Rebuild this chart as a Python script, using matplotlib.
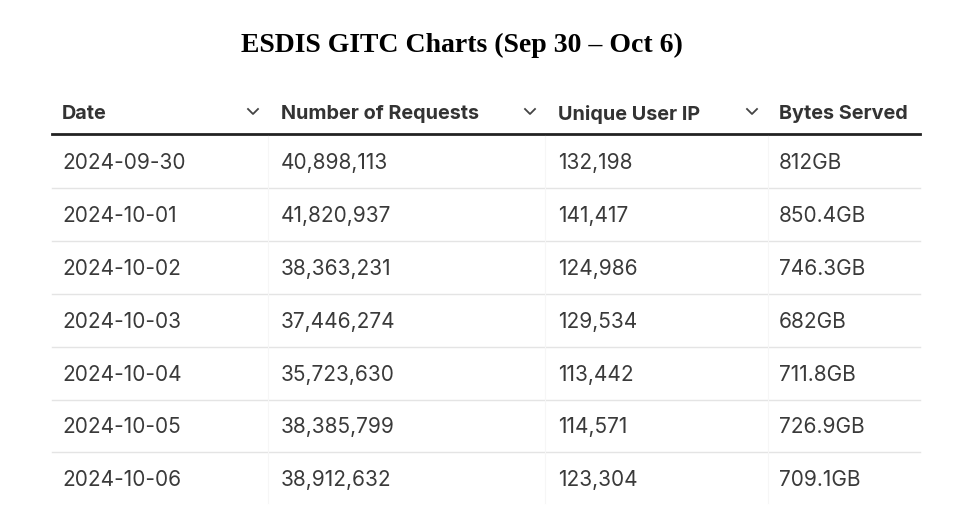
import matplotlib
matplotlib.use("Agg")
import matplotlib.pyplot as plt

title = "ESDIS GITC Charts (Sep 30 – Oct 6)"
headers = ["Date", "Number of Requests", "Unique User IP", "Bytes Served"]
dates = ["2024-09-30", "2024-10-01", "2024-10-02", "2024-10-03", "2024-10-04", "2024-10-05", "2024-10-06"]
requests = ["40,898,113", "41,820,937", "38,363,231", "37,446,274", "35,723,630", "38,385,799", "38,912,632"]
unique_ip = ["132,198", "141,417", "124,986", "129,534", "113,442", "114,571", "123,304"]
bytes_served = ["812GB", "850.4GB", "746.3GB", "682GB", "711.8GB", "726.9GB", "709.1GB"]

fig = plt.figure(figsize=(9.55, 5.21), dpi=100)
ax = fig.add_axes([0, 0, 1, 1])
ax.set_xlim(0, 955); ax.set_ylim(521, 0); ax.axis("off")

ax.text(462, 42, title, ha="center", va="center_baseline", fontsize=20, fontweight="bold",
        family="Liberation Serif", color="black")

col_x = [62, 281, 558, 779]
chev_x = [253, 530, 752]
sep_x = [268, 545, 768]
for x, h in zip(col_x, headers):
    ax.text(x, 112, h, ha="left", va="center_baseline", fontsize=14.3, fontweight="bold", family="Inter", color="#333333")
for cx in chev_x:
    ax.plot([cx-5, cx, cx+5], [109, 114, 109], color="#444444", lw=1.3)
ax.plot([52, 920], [134, 134], color="#222222", lw=2)

row_y = [161, 214, 267, 320, 373, 425, 478]
cols = [dates, requests, unique_ip, bytes_served]
for i, y in enumerate(row_y):
    for x, c in zip(col_x, cols):
        ax.text(x, y, c[i], ha="left", va="center_baseline", fontsize=15, family="Inter", color="#3a3a3a")
    if i < len(row_y) - 1:
        ax.plot([52, 920], [y + 26.5, y + 26.5], color="#e4e4e4", lw=1)
for sx in sep_x:
    ax.plot([sx, sx], [136, 503], color="#f6f6f6", lw=0.8)

fig.savefig("out.png", dpi=100, facecolor="white")
